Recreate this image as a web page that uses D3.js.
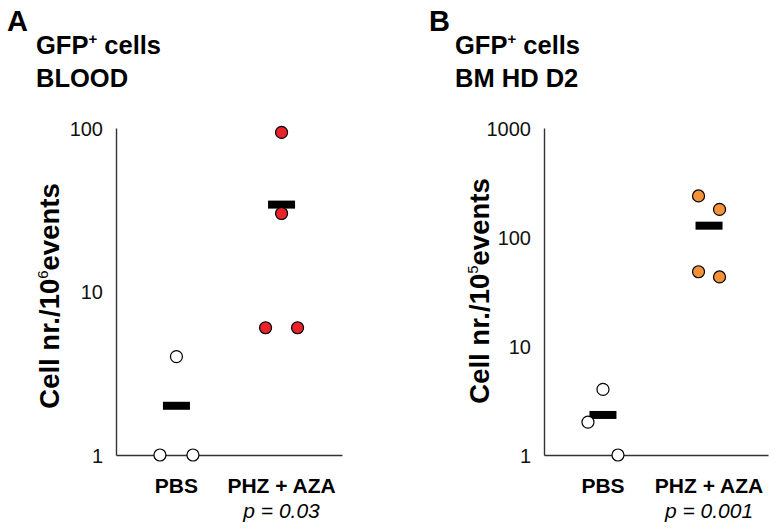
<!DOCTYPE html>
<html><head><meta charset="utf-8">
<script src="https://cdn.jsdelivr.net/npm/d3@7"></script>
<style>body{margin:0;background:#fff}svg{display:block;font-family:"Liberation Sans",Arial,sans-serif}</style>
</head><body>
<svg id="c" width="776" height="531"></svg>
<script>
// ---- data ----
const categories = ["PBS", "PHZ + AZA"];
// Panel A: GFP+ cells, BLOOD (cell nr./10^6 events)
const bloodPBS = [1, 1, 4];
const bloodPHZ = [94, 30, 6, 6];
const bloodMeans = [2, 34];
const bloodTicks = [1, 10, 100];
const bloodP = "p = 0.03";
// Panel B: GFP+ cells, BM HD D2 (cell nr./10^5 events)
const bmPBS = [2, 4, 1];
const bmPHZ = [238, 179, 48, 43];
const bmMeans = [2.33, 127];
const bmTicks = [1, 10, 100, 1000];
const bmP = "p = 0.001";

// ---- layout (dot-plot jitter, in units of dot spacing) ----
const jitterA = [[-1, 1, 0], [0, 0, -1, 1]];
const jitterB = [[-1, 0, 1], [-0.7, 0.7, -0.7, 0.7]];

const svg = d3.select("#c");
const RED = "#e8232b", ORANGE = "#f3923a";

function panel(o) {
  const g = svg.append("g");
  const x = d3.scalePoint().domain(categories).range([o.left, o.right]).padding(o.pad);
  const y = d3.scaleLog().domain([1, o.max]).range([o.bottom, o.top]);

  // letter + titles
  g.append("text").attr("x", o.letterX).attr("y", 31).attr("font-size", 29).attr("font-weight", "bold").text(o.letter);
  const t1 = g.append("text").attr("x", o.titleX).attr("y", 54).attr("font-size", 25.5).attr("font-weight", "bold");
  t1.append("tspan").text("GFP");
  t1.append("tspan").attr("font-size", 15).attr("dy", -10).text("+");
  t1.append("tspan").attr("dy", 10).text(" cells");
  g.append("text").attr("x", o.titleX).attr("y", 87).attr("font-size", 25.5).attr("font-weight", "bold").text(o.title2);

  // y axis
  const ya = d3.axisLeft(y).tickValues(o.ticks).tickFormat(d3.format("d")).tickSize(0).tickPadding(13);
  const yg = g.append("g").attr("transform", `translate(${o.left},0)`).call(ya);
  yg.select(".domain").attr("stroke", "#333").attr("stroke-width", 1.4);
  yg.selectAll("text").attr("font-size", 20).attr("fill", "#111").attr("font-family", "Liberation Sans, Arial, sans-serif").attr("dy", "0.35em");

  // x axis line
  const xa = d3.axisBottom(x).tickSize(0).tickFormat("");
  const xg = g.append("g").attr("transform", `translate(0,${o.bottom})`).call(xa);
  xg.select(".domain").attr("stroke", "#333").attr("stroke-width", 1.4);

  // y title
  const yt = g.append("text").attr("transform", `translate(${o.ytX},${o.ytY}) rotate(-90)`)
    .attr("text-anchor", "middle").attr("font-size", 27.5).attr("font-weight", "bold");
  yt.append("tspan").text("Cell nr./10");
  yt.append("tspan").attr("font-size", 15).attr("font-weight", "normal").attr("dy", -11).text(o.exp);
  yt.append("tspan").attr("dy", 11).text("events");

  // category labels
  categories.forEach(c => {
    g.append("text").attr("x", x(c)).attr("y", o.bottom + 38).attr("text-anchor", "middle")
      .attr("font-size", 21).attr("font-weight", "bold").text(c);
  });
  g.append("text").attr("x", x(categories[1])).attr("y", o.bottom + 63).attr("text-anchor", "middle")
    .attr("font-size", 21).attr("font-style", "italic").text(o.p);

  // means
  const mw = 27, mh = 8;
  g.selectAll(".mean").data(o.means).join("rect")
    .attr("x", (d, i) => x(categories[i]) - mw / 2)
    .attr("y", d => y(d) - mh / 2).attr("width", mw).attr("height", mh).attr("fill", "#000");

  // points
  const groups = [o.pbs, o.phz];
  const fills = ["#fff", o.color];
  groups.forEach((vals, gi) => {
    g.selectAll(".p" + gi).data(vals).join("circle")
      .attr("cx", (d, i) => x(categories[gi]) + o.jit[gi][i] * o.sp[gi])
      .attr("cy", d => y(d)).attr("r", 6)
      .attr("fill", fills[gi]).attr("stroke", "#000").attr("stroke-width", 1.2);
  });
}

panel({letter: "A", letterX: 7, titleX: 36, title2: "BLOOD", left: 116, right: 342, pad: 0.575,
  top: 128, bottom: 455, max: 100, ticks: bloodTicks, exp: "6", ytX: 59, ytY: 296,
  pbs: bloodPBS, phz: bloodPHZ, means: bloodMeans, color: RED, p: bloodP,
  jit: jitterA, sp: [16.5, 16]});

panel({letter: "B", letterX: 429, titleX: 455, title2: "BM HD D2", left: 544, right: 768, pad: 0.556,
  top: 128, bottom: 455, max: 1000, ticks: bmTicks, exp: "5", ytX: 489, ytY: 291,
  pbs: bmPBS, phz: bmPHZ, means: bmMeans, color: ORANGE, p: bmP,
  jit: jitterB, sp: [15, 15]});
</script>
</body></html>
